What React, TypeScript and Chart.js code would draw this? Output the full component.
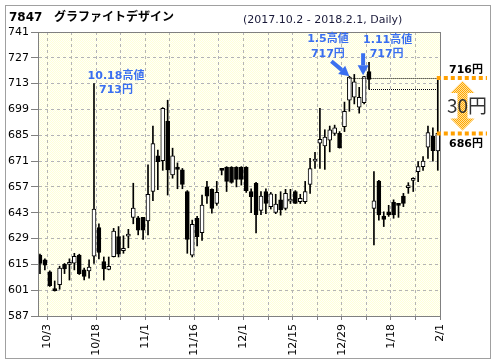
import React, { useEffect, useRef } from 'react';
import { Chart, registerables } from 'chart.js';
Chart.register(...registerables);

const dates = [
  '10/2', '10/3', '10/4', '10/5', '10/6', '10/10', '10/11', '10/12', '10/13', '10/16',
  '10/17', '10/18', '10/19', '10/20', '10/23', '10/24', '10/25', '10/26', '10/27', '10/30',
  '10/31', '11/1', '11/2', '11/6', '11/7', '11/8', '11/9', '11/10', '11/13', '11/14',
  '11/15', '11/16', '11/17', '11/20', '11/21', '11/22', '11/24', '11/27', '11/28', '11/29',
  '11/30', '12/1', '12/4', '12/5', '12/6', '12/7', '12/8', '12/11', '12/12', '12/13',
  '12/14', '12/15', '12/18', '12/19', '12/20', '12/21', '12/22', '12/25', '12/26', '12/27',
  '12/28', '12/29', '1/4', '1/5', '1/9', '1/10', '1/11', '1/12', '1/15', '1/16',
  '1/17', '1/18', '1/19', '1/22', '1/23', '1/24', '1/25', '1/26', '1/29', '1/30',
  '1/31', '2/1',
];

const opens = [
  620.1, 617.5, 611, 601, 604, 615, 615, 615.6, 620, 612,
  611.5, 619.5, 635, 616.5, 612.3, 619.2, 630, 622.4, 630.3, 640.5,
  640.3, 640.5, 638.5, 654.5, 673.8, 671.2, 692.7, 663.5, 667.8, 666.2,
  654.4, 620, 640, 632.2, 657, 655.7, 648, 666.5, 667.6, 667.6,
  667.6, 667.6, 667.6, 654.5, 659, 644.2, 654.4, 646.3, 643.2, 650,
  645.4, 649.3, 654.4, 649, 649, 658.3, 671, 680.7, 679.2, 682.4,
  686, 686, 689.6, 704, 705.6, 700.2, 702.7, 719.5, 645.4, 660.2,
  641.2, 643.5, 648.6, 647.4, 652, 656.6, 660.5, 665.3, 668, 678.5,
  684.6, 676.5,
];
const highs = [
  620.6, 618, 611.5, 606, 614, 615.5, 618, 621, 620.5, 613,
  617.5, 713, 637, 619, 619, 634.5, 635.5, 630.5, 634, 659,
  641, 640.5, 669, 690, 677, 700, 704, 678, 670, 667,
  655, 639, 641, 652.6, 660, 656, 660, 667, 668, 668,
  668, 668, 668, 656, 659.5, 654.5, 656, 654, 653, 654.4,
  655.7, 655.7, 655, 653, 660, 672.5, 675.8, 699.6, 688, 690,
  690.5, 687, 703, 717, 718, 711, 717, 724.5, 665.3, 660.5,
  643.5, 647, 650, 647.6, 653.5, 659.3, 662, 670.7, 673.4, 690,
  689, 716,
];
const lows = [
  610, 612, 603, 600.5, 601.5, 610, 606.5, 612, 609.5, 606.5,
  607.5, 615.5, 618, 606.5, 612, 619, 619, 621, 624, 637,
  631, 628.5, 631, 649.5, 655.5, 666, 652.6, 661.7, 656, 656,
  621, 619, 625, 628, 648, 642.7, 647, 663.5, 654.5, 659,
  657, 658, 654, 643, 632, 642, 642.5, 645, 642.5, 641.7,
  644.5, 648, 648, 648, 648, 653.5, 667, 667, 666.5, 676,
  685, 678, 687, 698, 702, 697, 702, 710, 625.5, 639,
  635.5, 641, 640, 640.5, 646.3, 653.5, 654.5, 659.8, 666, 672.5,
  671, 666,
];
const closes = [
  615.5, 614.5, 603.5, 600.8, 613, 612.5, 615.5, 619.3, 610, 608.5,
  613.5, 645, 621.5, 612.5, 614, 633, 620.5, 623.7, 630.8, 645.5,
  633.5, 633.5, 653, 680.5, 670.7, 699.6, 666.2, 673.8, 666.5, 658.4,
  628.5, 636.7, 630, 647.2, 652, 645.4, 654, 666, 660, 659.5,
  661, 661, 655, 651.7, 642, 652, 648, 653.2, 647.7, 644.5,
  653.5, 649.7, 648.1, 650.8, 654.4, 667, 671.4, 682.8, 684, 688,
  689, 678.3, 698, 716.5, 714, 705.6, 716.8, 715.3, 649.5, 641.8,
  639.4, 641.8, 641.8, 647, 648, 657, 660.9, 668, 671, 686.4,
  676.6, 686,
];

const Y_MIN = 587;
const Y_MAX = 741;
const Y_STEP = 14;
const gridIndices = [1, 6, 11, 16, 21, 26, 31, 36, 41, 46, 51, 56, 61, 66, 71, 76, 81];
const labelEvery = 10;

const titleCode = '7847';
const titleName = 'グラファイトデザイン';
const periodText = '(2017.10.2 - 2018.2.1, Daily)';
const notes = [
  { idx: 11, price: 713, line1: '10.18高値', line2: '713円' },
  { idx: 63, price: 717, line1: '1.5高値', line2: '717円' },
  { idx: 66, price: 717, line1: '1.11高値', line2: '717円' },
];
const recentHigh = 716;
const recentClose = 686;
const diffText = '30円';

function drawArrow(ctx: CanvasRenderingContext2D, x1: number, y1: number, x2: number, y2: number) {
  const ang = Math.atan2(y2 - y1, x2 - x1);
  const headLen = 10;
  const headW = 5.5;
  const bx = x2 - headLen * Math.cos(ang);
  const by = y2 - headLen * Math.sin(ang);
  ctx.beginPath();
  ctx.moveTo(x1, y1);
  ctx.lineTo(bx, by);
  ctx.stroke();
  ctx.beginPath();
  ctx.moveTo(x2, y2);
  ctx.lineTo(bx + headW * Math.sin(ang), by - headW * Math.cos(ang));
  ctx.lineTo(bx - headW * Math.sin(ang), by + headW * Math.cos(ang));
  ctx.closePath();
  ctx.fill();
}

export default function App() {
  const ref = useRef<HTMLCanvasElement>(null);
  useEffect(() => {
    const canvas = ref.current!;
    const c2d = canvas.getContext('2d')!;
    const pc = document.createElement('canvas');
    pc.width = 2; pc.height = 2;
    const p = pc.getContext('2d')!;
    p.fillStyle = '#fffffa'; p.fillRect(0, 0, 2, 2);
    p.fillStyle = '#ffffd8'; p.fillRect(0, 0, 1, 1); p.fillRect(1, 1, 1, 1);
    const bgPattern = c2d.createPattern(pc, 'repeat')!;

    const oc = document.createElement('canvas');
    oc.width = 2; oc.height = 2;
    const o = oc.getContext('2d')!;
    o.fillStyle = '#ffe0a0'; o.fillRect(0, 0, 2, 2);
    o.fillStyle = '#ffa800'; o.fillRect(0, 0, 1, 1); o.fillRect(1, 1, 1, 1);
    const orangePattern = c2d.createPattern(oc, 'repeat')!;

    const bgPlugin = {
      id: 'bg',
      beforeDraw(chart: any) {
        const { ctx, chartArea: a } = chart;
        ctx.save();
        ctx.fillStyle = '#ffffff';
        ctx.fillRect(0, 0, chart.width, chart.height);
        ctx.fillStyle = bgPattern;
        ctx.fillRect(a.left, a.top, a.right - a.left, a.bottom - a.top);
        ctx.restore();
      },
    };

    const annoPlugin = {
      id: 'anno',
      afterDraw(chart: any) {
        const { ctx, chartArea: a } = chart;
        const xs = chart.scales.x;
        const ys = chart.scales.y;
        const X = (i: number) => xs.getPixelForValue(i);
        const Y = (v: number) => ys.getPixelForValue(v);
        ctx.save();
        ctx.strokeStyle = '#808080';
        ctx.lineWidth = 1;
        ctx.strokeRect(a.left + 0.5, a.top + 0.5, a.right - a.left, a.bottom - a.top);
        ctx.strokeStyle = '#a0a0a0';
        ctx.strokeRect(5.5, 5.5, 485, 353);

        ctx.fillStyle = '#000';
        ctx.textBaseline = 'alphabetic';
        ctx.textAlign = 'left';
        ctx.font = 'bold 12px "DejaVu Sans"';
        ctx.fillText(titleCode, 9, 21);
        ctx.font = 'bold 12px "Noto Sans CJK JP"';
        ctx.fillText(titleName, 54, 21);
        ctx.fillStyle = '#1a1a3a';
        ctx.font = '11px "DejaVu Sans"';
        ctx.fillText(periodText, 243, 23);

        ctx.strokeStyle = '#000';
        ctx.lineWidth = 1;
        ctx.setLineDash([1, 1]);
        ctx.beginPath();
        ctx.moveTo(X(63), Math.round(Y(recentHigh)) + 0.5);
        ctx.lineTo(X(81), Math.round(Y(recentHigh)) + 0.5);
        ctx.moveTo(X(67), Math.round(Y(710)) + 0.5);
        ctx.lineTo(X(81), Math.round(Y(710)) + 0.5);
        ctx.stroke();

        ctx.strokeStyle = '#ffa000';
        ctx.lineWidth = 4;
        ctx.setLineDash([4, 3]);
        ctx.beginPath();
        ctx.moveTo(X(81) - 1, Y(recentHigh));
        ctx.lineTo(487, Y(recentHigh));
        ctx.moveTo(X(81) - 1, Y(recentClose));
        ctx.lineTo(487, Y(recentClose));
        ctx.stroke();
        ctx.setLineDash([]);

        const cx = 462.5;
        const t = Y(recentHigh) + 3;
        const b = Y(recentClose) - 3;
        const hh = 12, hw = 12, sw = 5;
        ctx.fillStyle = orangePattern;
        ctx.beginPath();
        ctx.moveTo(cx, t);
        ctx.lineTo(cx + hw, t + hh);
        ctx.lineTo(cx + sw, t + hh);
        ctx.lineTo(cx + sw, b - hh);
        ctx.lineTo(cx + hw, b - hh);
        ctx.lineTo(cx, b);
        ctx.lineTo(cx - hw, b - hh);
        ctx.lineTo(cx - sw, b - hh);
        ctx.lineTo(cx - sw, t + hh);
        ctx.lineTo(cx - hw, t + hh);
        ctx.closePath();
        ctx.fill();

        ctx.textAlign = 'center';
        ctx.textBaseline = 'middle';
        ctx.fillStyle = '#000';
        ctx.font = 'bold 11px "DejaVu Sans", "Noto Sans CJK JP"';
        ctx.fillText(`${recentHigh}円`, 466, Y(recentHigh) - 8);
        ctx.fillText(`${recentClose}円`, 466, Y(recentClose) + 10.5);
        ctx.fillStyle = '#333';
        ctx.font = '19px "Noto Sans CJK JP"';
        ctx.fillText(diffText, 467, (Y(recentHigh) + Y(recentClose)) / 2);

        const blue = '#3a6ff0';
        ctx.fillStyle = blue;
        ctx.strokeStyle = blue;
        ctx.font = 'bold 11px "DejaVu Sans", "Noto Sans CJK JP"';
        const n0 = notes[0];
        ctx.fillText(n0.line1, X(n0.idx) + 22, Y(n0.price) - 7);
        ctx.fillText(n0.line2, X(n0.idx) + 22, Y(n0.price) + 7);
        const n1 = notes[1];
        ctx.fillText(n1.line1, X(n1.idx) - 21.5, Y(n1.price) - 37);
        ctx.fillText(n1.line2, X(n1.idx) - 21.5, Y(n1.price) - 22);
        const n2 = notes[2];
        ctx.fillText(n2.line1, X(n2.idx) + 23.5, Y(n2.price) - 36.5);
        ctx.fillText(n2.line2, X(n2.idx) + 22.5, Y(n2.price) - 22);

        ctx.lineWidth = 4;
        drawArrow(ctx, X(n1.idx) - 18, Y(n1.price) - 15, X(n1.idx), Y(n1.price));
        drawArrow(ctx, X(n2.idx) - 1, Y(n2.price) - 23, X(n2.idx) - 1, Y(n2.price) - 1);
        ctx.restore();
      },
    };

    const bodyData = dates.map((_, i) => ({ x: i, y: [opens[i], closes[i]] }));
    const wickData = dates.map((_, i) => ({ x: i, y: [lows[i], highs[i]] }));
    const bodyColors = dates.map((_, i) => (closes[i] >= opens[i] ? '#ffffff' : '#000000'));

    const axisFont = { family: '"DejaVu Sans"', size: 11 };

    const chart = new Chart(canvas, {
      type: 'bar',
      data: {
        datasets: [
          {
            label: 'body',
            data: bodyData as any,
            backgroundColor: bodyColors,
            borderColor: '#000000',
            borderWidth: 1,
            borderSkipped: false,
            barThickness: 4,
            minBarLength: 2,
            grouped: false,
          } as any,
          {
            label: 'wick',
            data: wickData as any,
            backgroundColor: '#000000',
            borderWidth: 0,
            barThickness: 1,
            grouped: false,
          } as any,
        ],
      },
      options: {
        responsive: false,
        animation: false,
        devicePixelRatio: 1,
        layout: { padding: { left: 0, top: 32, right: 56, bottom: 0 } },
        plugins: { legend: { display: false }, tooltip: { enabled: false } },
        scales: {
          x: {
            type: 'linear',
            min: -0.4,
            max: 81.45,
            offset: false,
            afterBuildTicks: (s: any) => {
              s.ticks = gridIndices.map((i) => ({ value: i + 0.45 }));
            },
            afterFit: (s: any) => {
              s.height = 48;
            },
            ticks: {
              autoSkip: false,
              minRotation: 90,
              maxRotation: 90,
              padding: 4,
              color: '#000',
              font: axisFont,
              callback: (_v: any, k: number) => {
                const idx = gridIndices[k];
                return (idx - 1) % labelEvery === 0 ? dates[idx] : '';
              },
            },
            grid: { color: '#b4b4b4', offset: false, tickLength: 4, tickColor: '#808080', tickBorderDash: [] },
            border: { color: '#808080', dash: [3, 3] },
          } as any,
          y: {
            min: Y_MIN,
            max: Y_MAX,
            afterFit: (s: any) => {
              s.width = 38;
            },
            ticks: { stepSize: Y_STEP, padding: 2, color: '#000', font: axisFont },
            grid: { color: '#b4b4b4', tickLength: 7, tickColor: '#808080', tickBorderDash: [] },
            border: { color: '#808080', dash: [3, 3] },
          } as any,
        },
      },
      plugins: [bgPlugin, annoPlugin],
    });
    return () => chart.destroy();
  }, []);
  return (
    <div style={{ position: 'absolute', left: 0, top: 0, width: 496, height: 364, background: '#fff' }}>
      <canvas ref={ref} width={496} height={364} style={{ display: 'block' }} />
    </div>
  );
}
